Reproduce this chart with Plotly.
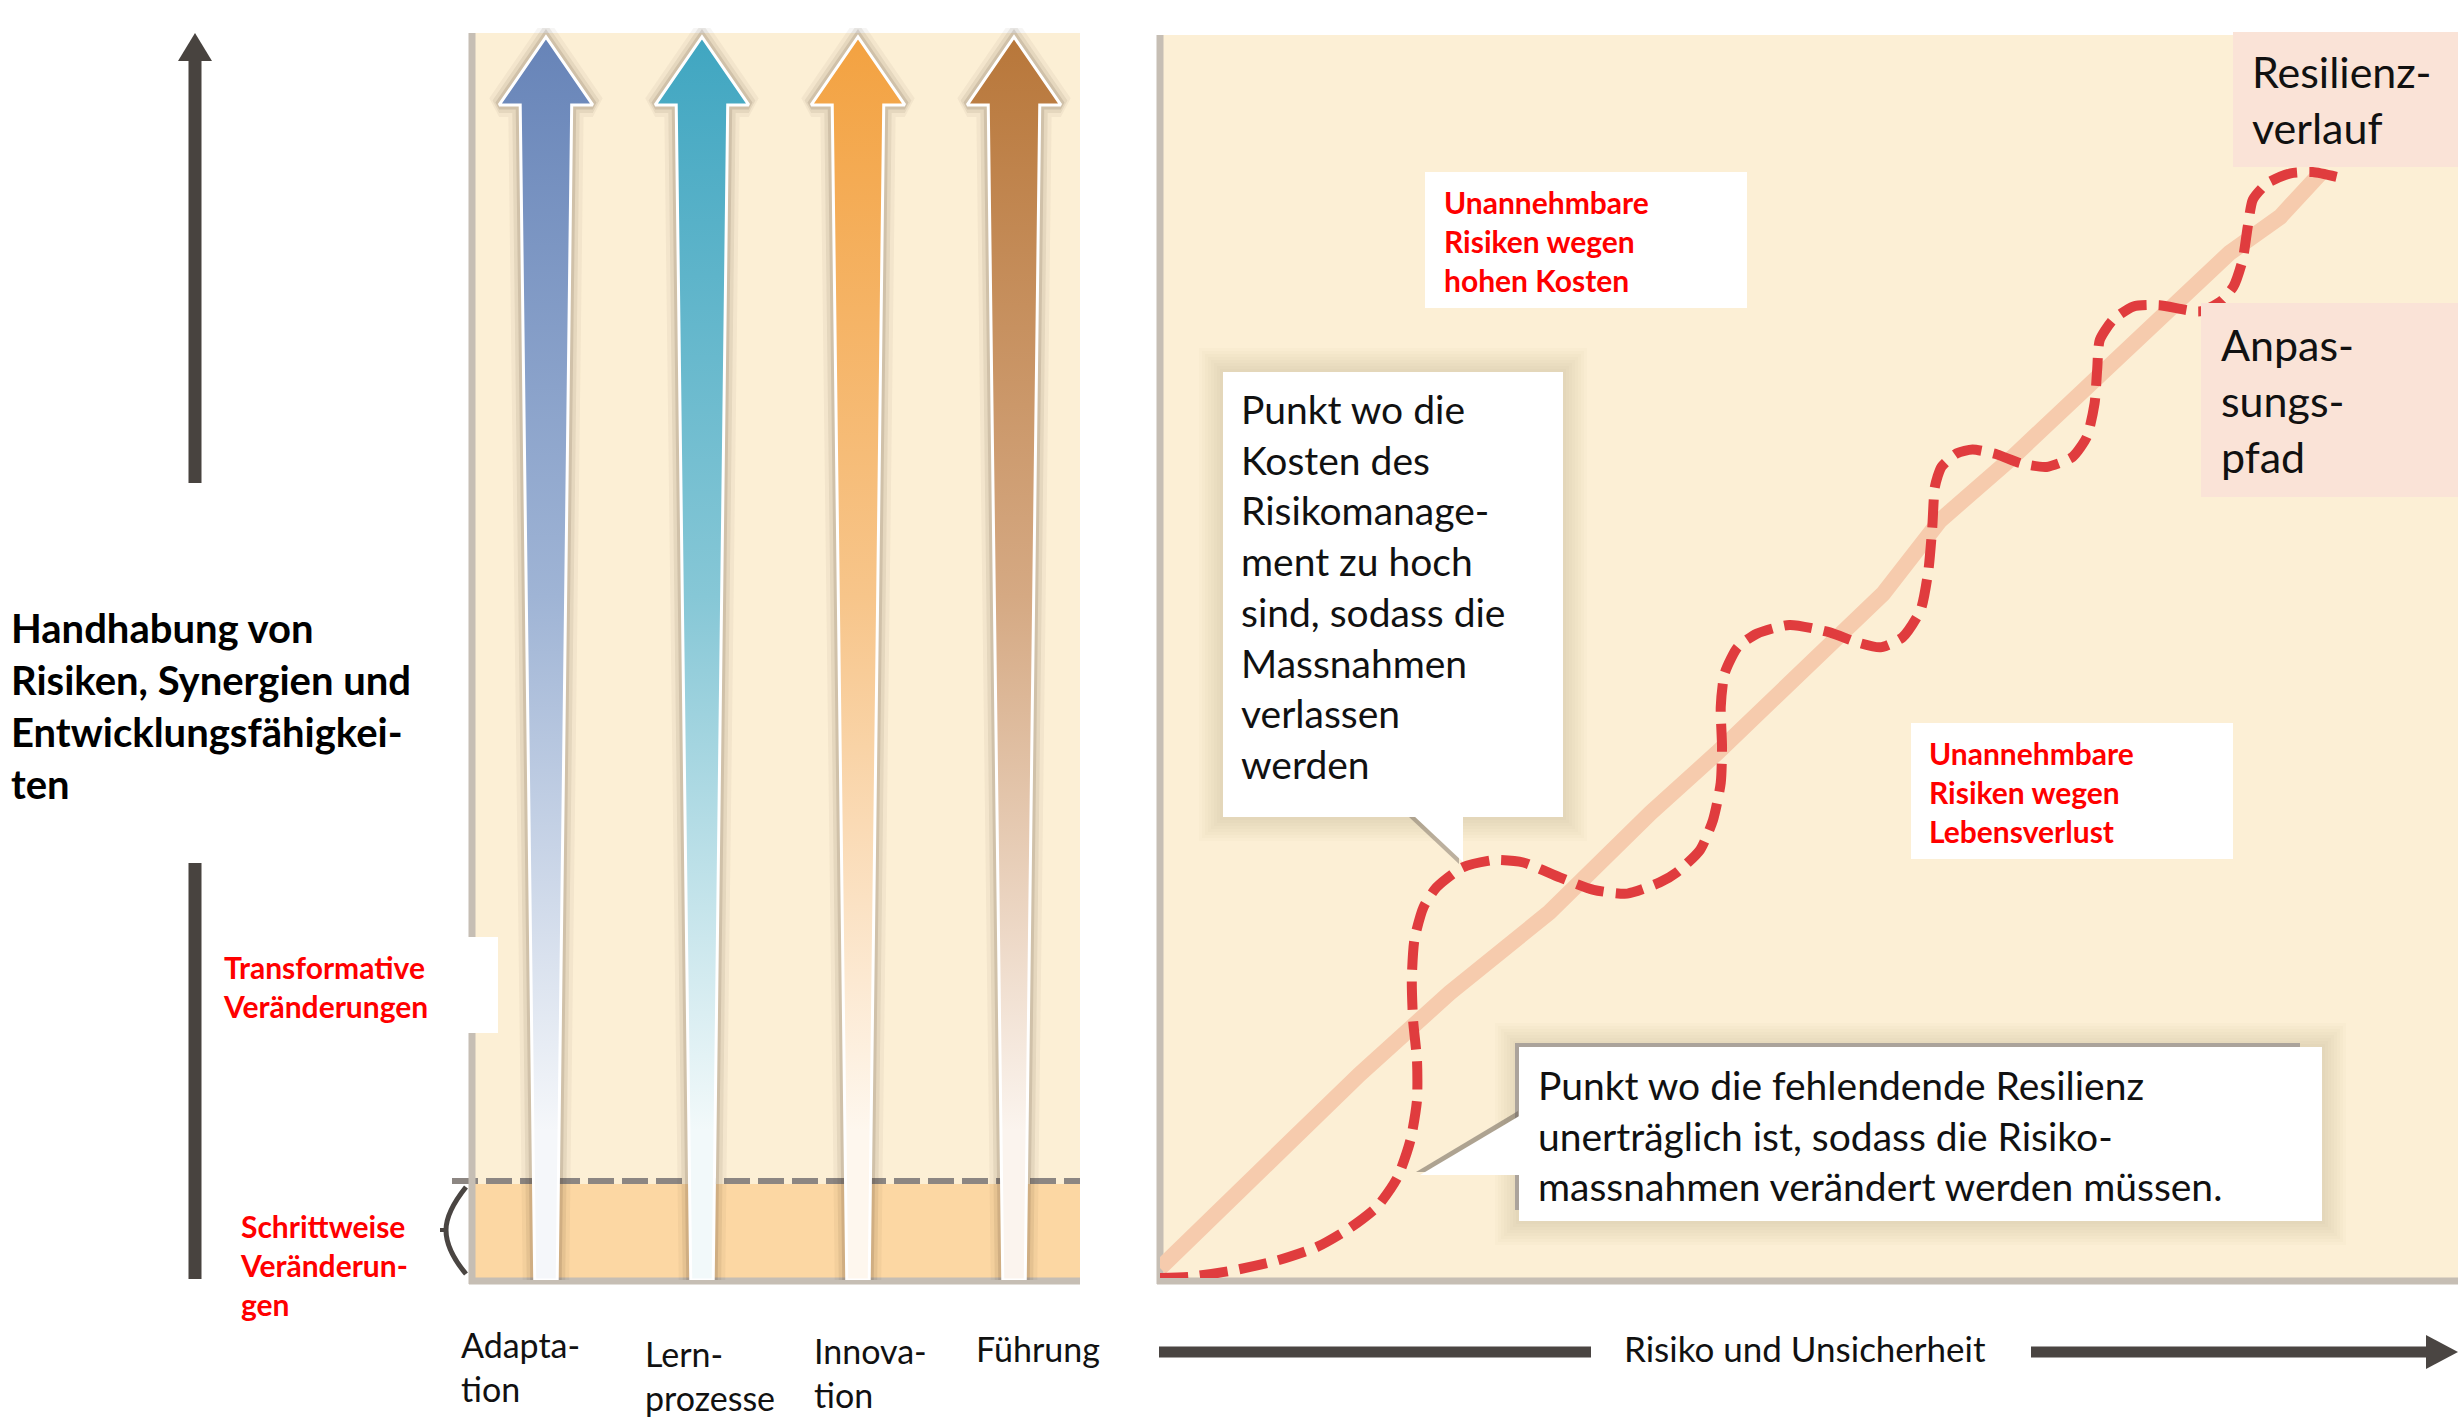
import plotly.graph_objects as go

W, H = 2458, 1418

# ------------------------------------------------------------------ data
capabilities = ["Adapta-<br>tion", "Lern-<br>prozesse", "Innova-<br>tion", "Führung"]
capability_level = [100, 100, 100, 100]
arrow_top = ["#6784B8", "#40A6C1", "#F3A241", "#B8773A"]
arrow_mid = ["#9FB4D5", "#86C7D6", "#F7C58A", "#D5A983"]
arrow_bot = ["#F5F7FA", "#F2F9FA", "#FEF7EE", "#FBF4EE"]

# adaptation path (red dashed) – risk (x) vs. resilience (y), 0..100
path_risk = [0, 2.3, 5.6, 9.0, 12.1, 14.6, 16.7, 18.3, 19.3, 19.8, 19.8, 19.5, 19.4, 19.6,
             20.3, 21.3, 23.3, 25.7, 28.0, 30.8, 33.4, 36.0, 38.5, 39.8, 41.6, 42.6, 43.2,
             43.3, 43.2, 43.5, 44.5, 46.0, 48.5, 51.6, 53.7, 55.5, 57.2, 58.6, 59.2, 59.5,
             59.7, 60.2, 61.4, 62.6, 64.5, 66.3, 68.3, 70.3, 71.4, 72.0, 72.2, 72.4, 73.4,
             75.0, 77.0, 80.1, 81.7, 82.7, 83.4, 83.8, 84.2, 85.3, 87.1, 88.8, 90.7]
path_resil = [0, 0.1, 0.6, 1.4, 2.5, 4.0, 5.7, 8.1, 11.1, 14.3, 17.5, 20.7, 24.0, 27.2,
              29.8, 31.4, 33.0, 33.6, 33.4, 32.2, 31.2, 30.9, 31.8, 32.6, 34.4, 36.8, 39.8,
              42.7, 45.9, 48.6, 50.7, 51.8, 52.5, 51.9, 51.1, 50.7, 51.5, 53.7, 56.9, 60.4,
              63.6, 65.2, 66.3, 66.6, 66.2, 65.5, 65.2, 66.0, 67.6, 70.3, 73.0, 75.4, 77.0,
              78.1, 78.2, 77.7, 78.5, 79.7, 81.8, 84.5, 86.7, 88.0, 88.8, 88.9, 88.5]

# resilience trend (light straight band)
trend_risk = [0, 6.9, 14.2, 15.4, 22.3, 30.0, 37.8, 42.9, 55.7, 60.1, 65.7, 71.4, 77.3, 82.4, 86.3, 89.4]
trend_resil = [0.8, 7.9, 15.2, 16.4, 22.9, 29.4, 37.4, 42.2, 55.0, 60.9, 66.0, 71.6, 77.3, 82.4, 85.3, 88.8]

# texts
title_left = "Handhabung von<br>Risiken, Synergien und<br>Entwicklungsfähigkei-<br>ten"
txt_transform = "Transformative<br>Veränderungen"
txt_stepwise = "Schrittweise<br>Veränderun-<br>gen"
txt_cost = "Unannehmbare<br>Risiken wegen<br>hohen Kosten"
txt_life = "Unannehmbare<br>Risiken wegen<br>Lebensverlust"
txt_call1 = ("Punkt wo die<br>Kosten des<br>Risikomanage-<br>ment zu hoch<br>"
             "sind, sodass die<br>Massnahmen<br>verlassen<br>werden")
txt_call2 = ("Punkt wo die fehlendende Resilienz<br>unerträglich ist, sodass die Risiko-<br>"
             "massnahmen verändert werden müssen.")
txt_resil = "Resilienz-<br>verlauf"
txt_anpas = "Anpas-<br>sungs-<br>pfad"
txt_xaxis = "Risiko und Unsicherheit"

# ------------------------------------------------------------------ styles
FONT = "Lato, Carlito, 'Open Sans', sans-serif"
BEIGE = "#FCEFD5"
BAND = "#FCD7A3"
GREY = "#C6BEB4"
DARK = "#48433F"
RED_TXT = "#FF0000"
PINK = "#FAE3D7"

fig = go.Figure()

# overlay (pixel-like) axes
fig.add_trace(go.Scatter(x=[0], y=[0], mode="markers", marker=dict(opacity=0),
                         hoverinfo="skip", xaxis="x", yaxis="y"))

# ---- left panel: capability arrows (subplot 3)
SB, ST, HW, HEAD = 0.072, 0.165, 0.300, 5.47
for i, (lvl, ct, cm, cb) in enumerate(zip(capability_level, arrow_top, arrow_mid, arrow_bot)):
    xs = [i - SB, i - ST, i - HW, i, i + HW, i + ST, i + SB, i - SB]
    ys = [0, lvl - HEAD, lvl - HEAD, lvl, lvl - HEAD, lvl - HEAD, 0, 0]
    for w, a in [(24, 0.05), (16, 0.08), (9, 0.13)]:
        fig.add_trace(go.Scatter(x=xs, y=ys, mode="lines", line=dict(color=f"rgba(70,50,30,{a})", width=w),
                                 hoverinfo="skip", xaxis="x3", yaxis="y3"))
    fig.add_trace(go.Scatter(
        x=xs, y=ys, mode="lines", fill="toself",
        fillgradient=dict(type="vertical", colorscale=[[0, cb], [0.12, cb], [0.55, cm], [1, ct]]),
        line=dict(color="white", width=3), hoverinfo="skip", xaxis="x3", yaxis="y3"))

# ---- right panel: resilience trend + adaptation path (subplot 2)
fig.add_trace(go.Scatter(x=trend_risk, y=trend_resil, mode="lines",
                         line=dict(color="#F6CBAD", width=16), hoverinfo="skip",
                         xaxis="x2", yaxis="y2"))
fig.add_trace(go.Scatter(x=path_risk, y=path_resil, mode="lines",
                         line=dict(color="#E03C3E", width=10, dash="28px,12px",
                                   shape="spline", smoothing=0.6),
                         hoverinfo="skip", xaxis="x2", yaxis="y2"))

shapes = []


def rect(x0, y0, x1, y1, fill, layer="below", line_color=None, lw=0):
    shapes.append(dict(type="rect", xref="x", yref="y", x0=x0, y0=y0, x1=x1, y1=y1,
                       fillcolor=fill, layer=layer,
                       line=dict(width=lw, color=line_color or "rgba(0,0,0,0)")))


def seg(x0, y0, x1, y1, color, width, layer="below", dash=None):
    ln = dict(color=color, width=width)
    if dash:
        ln["dash"] = dash
    shapes.append(dict(type="line", xref="x", yref="y", x0=x0, y0=y0, x1=x1, y1=y1,
                       line=ln, layer=layer))


def path(d, fill=None, color=None, width=0, layer="above"):
    shapes.append(dict(type="path", xref="x", yref="y", path=d, layer=layer,
                       fillcolor=fill or "rgba(0,0,0,0)",
                       line=dict(color=color or "rgba(0,0,0,0)", width=width)))


def soft_shadow(x0, y0, x1, y1, n=8, step=3, alpha=0.018):
    for k in range(n, 0, -1):
        e = k * step
        rect(x0 - e, y0 - e, x1 + e, y1 + e, f"rgba(110,90,60,{alpha})", layer="above")


# backgrounds (below traces)
rect(472, 33, 1080, 1280, BEIGE)
rect(472, 1184, 1080, 1278, BAND)
seg(452, 1181, 1080, 1181, "#8C8682", 6, dash="26px,8px")
seg(472, 33, 472, 1284, GREY, 7)
seg(469, 1281, 1080, 1281, GREY, 7)
rect(1160, 35, 2458, 1278, BEIGE)
seg(1160, 35, 1160, 1284, GREY, 7)
seg(1157, 1281, 2458, 1281, GREY, 7)

# left guide arrow and line
seg(195, 58, 195, 483, DARK, 13, layer="above")
path("M 178 61 L 195 33 L 212 61 Z", fill=DARK)
seg(195, 863, 195, 1279, DARK, 13, layer="above")
path("M 466 1187 Q 446 1212 446 1230 Q 446 1250 466 1274", color="#4A4542", width=5)
seg(440, 1230, 447, 1230, "#4A4542", 4, layer="above")

# white label box over left panel border
rect(205, 937, 498, 1033, "white", layer="above")

# text boxes right panel
rect(1425, 172, 1747, 308, "white", layer="above")
rect(1911, 723, 2233, 859, "white", layer="above")
rect(2233, 32, 2458, 167, PINK, layer="above")
rect(2201, 303, 2458, 497, PINK, layer="above")

# callout 1
soft_shadow(1223, 372, 1563, 817)
path("M 1409 817 L 1459 817 L 1459 864 Z", fill="rgba(110,100,90,0.45)")
rect(1223, 372, 1563, 817, "white", layer="above")
path("M 1413 815 L 1463 815 L 1463 862 Z", fill="white")

# callout 2
soft_shadow(1519, 1047, 2322, 1221)
rect(1515, 1043, 2300, 1210, "#ABA39B", layer="above")
path("M 1518 1111 L 1416 1172 L 1518 1172 Z", fill="rgba(110,100,90,0.55)")
rect(1519, 1047, 2322, 1221, "white", layer="above")
path("M 1521 1115 L 1420 1175 L 1521 1175 Z", fill="white")

# x-axis arrow: Risiko und Unsicherheit
seg(1159, 1352, 1591, 1352, "#4A4542", 11, layer="above")
seg(2031, 1352, 2432, 1352, "#4A4542", 11, layer="above")
path("M 2426 1335 L 2458 1352 L 2426 1369 Z", fill="#4A4542")

# ------------------------------------------------------------------ annotations
annotations = []


def ann(x, y, text, size, color="#111111", bold=False, xanchor="left"):
    annotations.append(dict(x=x, y=y, xref="x", yref="y",
                            text=f"<b>{text}</b>" if bold else text,
                            showarrow=False, xanchor=xanchor, yanchor="middle", align="left",
                            font=dict(family=FONT, size=size, color=color)))


ann(9, 706, title_left, 40, color="#000000", bold=True)
ann(221, 986, txt_transform, 30, RED_TXT, bold=True)
ann(238, 1265, txt_stepwise, 30, RED_TXT, bold=True)
label_pos = [(459, 1366), (643, 1375), (812, 1372), (974, 1348)]
for lab, (lx, ly) in zip(capabilities, label_pos):
    ann(lx, ly, lab, 34)
ann(1442, 241, txt_cost, 30, RED_TXT, bold=True)
ann(1927, 792, txt_life, 30, RED_TXT, bold=True)
ann(1239, 586, txt_call1, 39)
ann(1536, 1135, txt_call2, 39)
ann(2250, 99, txt_resil, 43)
ann(2219, 400, txt_anpas, 43)
ann(1805, 1348, txt_xaxis, 35, xanchor="center")

# ------------------------------------------------------------------ layout
hidden = dict(visible=False, showgrid=False, zeroline=False, fixedrange=True)
fig.update_layout(
    width=W, height=H, margin=dict(l=0, r=0, t=0, b=0),
    paper_bgcolor="white", plot_bgcolor="rgba(0,0,0,0)", showlegend=False,
    xaxis=dict(range=[0, W], domain=[0, 1], **hidden),
    yaxis=dict(range=[H, 0], domain=[0, 1], **hidden),
    xaxis2=dict(range=[0, 100], domain=[1160 / W, 1], anchor="y2", **hidden),
    yaxis2=dict(range=[0, 100], domain=[1 - 1278 / H, 1 - 34 / H], anchor="x2", **hidden),
    xaxis3=dict(range=[-0.474, 3.423], domain=[472 / W, 1080 / W], anchor="y3", **hidden),
    yaxis3=dict(range=[0, 100.72], domain=[1 - 1280 / H, 1 - 28 / H], anchor="x3", **hidden),
    shapes=shapes, annotations=annotations,
)

fig.write_html("out.html", config={"displayModeBar": False},
               post_script="document.body.style.margin='0';document.body.style.overflow='hidden';")
